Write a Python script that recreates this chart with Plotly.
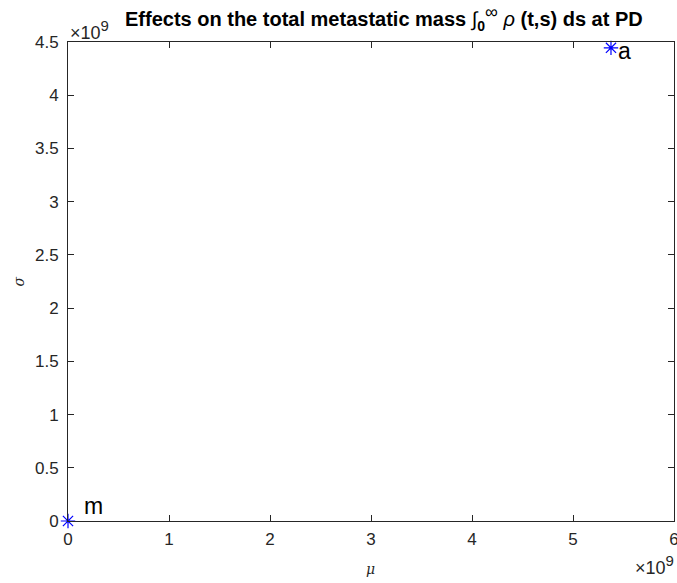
import plotly.graph_objects as go

mu = [0, 5.376e9]
sigma = [0, 4.445e9]
labels = ["m", "a"]
x_ticks = [0, 1, 2, 3, 4, 5, 6]
y_ticks = [0, 0.5, 1, 1.5, 2, 2.5, 3, 3.5, 4, 4.5]
scale = 1e9

FONT = "Liberation Sans, Arial, Helvetica"
GRAY = "#262626"

def fmt(v):
    return str(int(v)) if float(v).is_integer() else str(v)

fig = go.Figure()
fig.add_trace(go.Scatter(
    x=mu, y=sigma, mode="markers",
    marker=dict(symbol="asterisk-open", size=12, color="blue",
                line=dict(color="blue", width=1.2)),
    cliponaxis=False, showlegend=False,
))

axis_common = dict(
    showgrid=False, zeroline=False, showline=True, linecolor=GRAY,
    linewidth=1, mirror="ticks", ticks="inside", ticklen=6, tickcolor=GRAY,
    tickfont=dict(family=FONT, size=17, color=GRAY),
    ticklabeloverflow="allow", automargin=False,
)
fig.update_xaxes(range=[0, 6e9], tickvals=[v * scale for v in x_ticks],
                 ticktext=[fmt(v) for v in x_ticks], ticklabelstandoff=3,
                 **axis_common)
fig.update_yaxes(range=[0, 4.5e9], tickvals=[v * scale for v in y_ticks],
                 ticktext=[fmt(v) for v in y_ticks], ticklabelstandoff=5,
                 **axis_common)

exp_text = "×10<sup><span style='font-size:15px'>9</span></sup>"

anns = []
# point labels
anns.append(dict(x=mu[0], y=sigma[0], text=labels[0], showarrow=False,
                 xanchor="center", yanchor="middle", xshift=25, yshift=15,
                 font=dict(family=FONT, size=23, color="black")))
anns.append(dict(x=mu[1], y=sigma[1], text=labels[1], showarrow=False,
                 xanchor="center", yanchor="middle", xshift=14, yshift=-3,
                 font=dict(family=FONT, size=23, color="black")))
# exponents
anns.append(dict(xref="paper", yref="paper", x=0, y=1, text=exp_text,
                 showarrow=False, xanchor="left", yanchor="bottom", yshift=-3,
                 font=dict(family=FONT, size=18, color=GRAY)))
anns.append(dict(xref="paper", yref="paper", x=1, y=0, text=exp_text,
                 showarrow=False, xanchor="right", yanchor="top", yshift=-29, xshift=2,
                 font=dict(family=FONT, size=18, color=GRAY)))
# axis labels
anns.append(dict(xref="paper", yref="paper", x=0.499, y=0, text="<i>μ</i>",
                 showarrow=False, xanchor="center", yanchor="middle", yshift=-48,
                 font=dict(family="DejaVu Serif", size=14, color=GRAY)))
anns.append(dict(xref="paper", yref="paper", x=0, y=0.5, text="<i>σ</i>",
                 showarrow=False, xanchor="center", yanchor="middle", xshift=-50,
                 textangle=-90,
                 font=dict(family="DejaVu Serif", size=14, color=GRAY)))
# title
anns.append(dict(xref="paper", yref="paper", x=0.522, y=1, showarrow=False,
                 xanchor="center", yanchor="bottom", yshift=6,
                 text="<b>Effects on the total metastatic mass</b> ∫<sub><b>0</b></sub>"
                      "<sup><span style='font-size:18px'>∞</span></sup> "
                      "<i>ρ</i> <b>(t,s) ds at PD</b>",
                 font=dict(family=FONT, size=20, color="black")))

fig.update_layout(
    width=677, height=583, autosize=False,
    margin=dict(l=68, r=3, t=42, b=62),
    plot_bgcolor="white", paper_bgcolor="white",
    annotations=anns,
)
fig.write_html("out.html")
